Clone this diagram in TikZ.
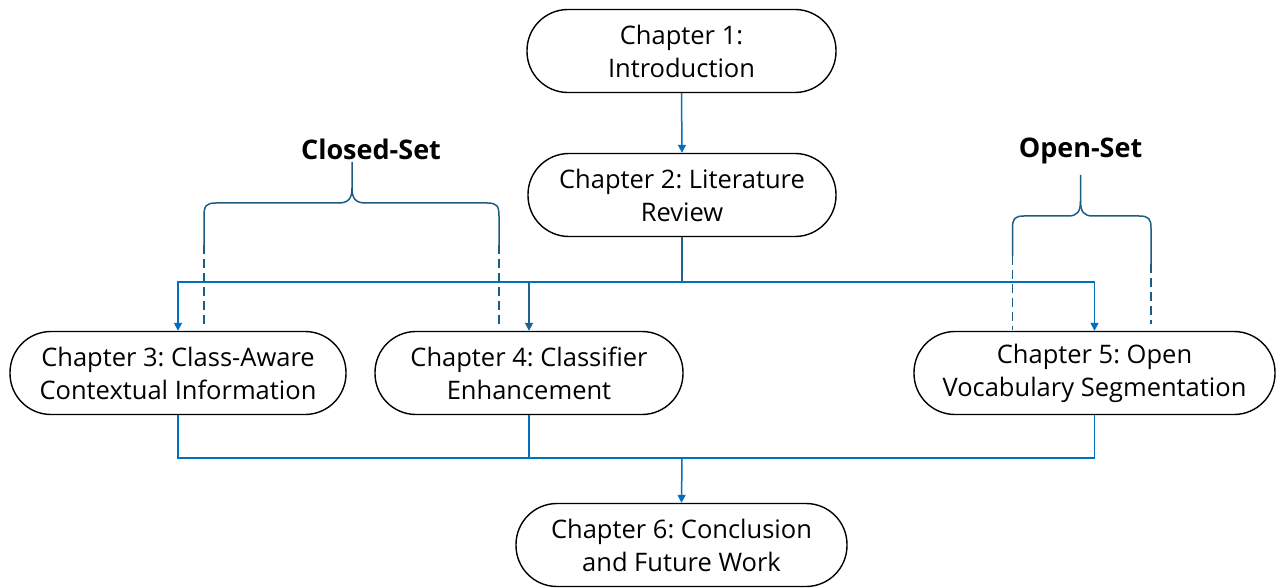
\documentclass[tikz,border=0pt]{standalone}
\usepackage{fontspec}
\setmainfont{Open Sans}
\usetikzlibrary{arrows.meta}
\definecolor{flowblue}{HTML}{0070C0}
\definecolor{darkflow}{HTML}{1F6391}
\definecolor{bracecol}{HTML}{1F5C82}
\frenchspacing
\begin{document}
\begin{tikzpicture}[x=1pt,y=-1pt,
  chapter/.style={draw=black, line width=1.4pt, rounded corners=41pt,
    minimum height=83pt, inner sep=0pt, align=center,
    font=\fontsize{25.5}{33}\selectfont},
  flow/.style={draw=flowblue, line width=1.5pt},
  arrowed/.style={flow, -{Triangle[length=8pt,width=8pt]}},
  bracket/.style={draw=bracecol, line width=1.5pt},
  dashedlink/.style={draw=bracecol, line width=1.5pt, dash pattern=on 9pt off 5pt},
  grouplabel/.style={font=\fontsize{27}{30}\selectfont\bfseries}]
\useasboundingbox (0,0) rectangle (1277,588);

% chapter boxes
\node[chapter, minimum width=309pt] (ch1) at (681.5,51) {Chapter 1:\\Introduction};
\node[chapter, minimum width=308pt] (ch2) at (682,195) {Chapter 2: Literature\\Review};
\node[chapter, minimum width=336pt] (ch3) at (178,373) {Chapter 3: Class-Aware\\Contextual Information};
\node[chapter, minimum width=308pt] (ch4) at (529,373) {Chapter 4: Classifier\\Enhancement};
\node[chapter, minimum width=361pt] (ch5) at (1094.5,373) {Chapter 5: Open\\Vocabulary Segmentation};
\node[chapter, minimum width=331pt] (ch6) at (681.5,545) {Chapter 6: Conclusion\\and Future Work};

% group labels
\node[grouplabel] (closed) at (371,149) {Closed-Set};
\node[grouplabel] (open) at (1080.5,151) {Open-Set};

% flow from introduction to review
\draw[arrowed] (ch1.south) -- (ch2.north);

% split from review to the three method chapters
\coordinate (topbus) at (682,282);
\draw[flow, draw=darkflow] (ch2.south) -- (topbus);
\draw[arrowed] (topbus) -| (ch3.north);
\draw[arrowed] (topbus) -| (ch5.north);
\draw[arrowed, draw=darkflow] (topbus -| ch4.north) -- (ch4.north);

% merge into conclusion
\coordinate (botbus) at (682,458);
\draw[flow] (ch3.south) |- (botbus);
\draw[flow] (ch5.south) |- (botbus);
\draw[flow] (ch4.south) -- (ch4.south |- botbus);
\draw[arrowed] (botbus) -- (ch6.north);

% closed-set brace
\draw[bracket] (204,245) -- (204,216) .. controls (204,206) and (206,203) .. (216,203)
  -- (338,203) .. controls (348,203) and (352,199) .. (352,188) -- (352,162);
\draw[bracket] (352,188) .. controls (352,199) and (356,203) .. (366,203)
  -- (487,203) .. controls (497,203) and (499,206) .. (499,216) -- (499,245);
\draw[dashedlink] (204,245) -- (204,328);
\draw[dashedlink] (499,245) -- (499,328);

% open-set brace
\draw[bracket] (1012.5,256) -- (1012.5,228) .. controls (1012.5,219) and (1014.5,216) .. (1024,216)
  -- (1068,216) .. controls (1077,216) and (1080.5,212) .. (1080.5,201) -- (1080.5,175);
\draw[bracket] (1080.5,201) .. controls (1080.5,212) and (1084,216) .. (1093,216)
  -- (1139,216) .. controls (1149,216) and (1151,219) .. (1151,228) -- (1151,264);
\draw[dashedlink] (1012.5,256) -- (1012.5,330);
\draw[dashedlink] (1151,264) -- (1151,324);
\end{tikzpicture}
\end{document}
